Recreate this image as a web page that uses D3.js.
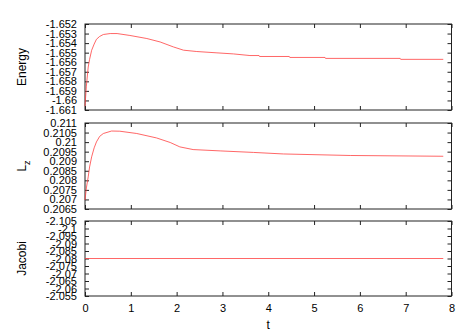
<!DOCTYPE html>
<html>
<head>
<meta charset="utf-8">
<script src="https://cdn.jsdelivr.net/npm/d3@7"></script>
<style>
  body { margin: 0; background: #fff; }
  svg text { font-family: "Liberation Sans", Arial, sans-serif; }
</style>
</head>
<body>
<svg id="chart" width="473" height="332"></svg>
<script>
// time axis ticks
const tTicks = [0, 1, 2, 3, 4, 5, 6, 7, 8];

// Energy series
const energyT = [0, 0.03, 0.07, 0.1, 0.145, 0.2, 0.25, 0.32, 0.4, 0.55, 0.7, 0.98, 1.35, 1.64, 1.93, 2.15, 2.44, 2.88, 3.24, 3.6, 3.8, 3.81, 4.46, 4.47, 5.24, 5.25, 6.88, 6.89, 7.82];
const energyV = [-1.6606, -1.6585, -1.6565, -1.6557, -1.65475, -1.6541, -1.6536, -1.6533, -1.6531, -1.6530, -1.6530, -1.6532, -1.65352, -1.65388, -1.6544, -1.65474, -1.65488, -1.65502, -1.65513, -1.6553, -1.6553, -1.6554, -1.6554, -1.6555, -1.6555, -1.6556, -1.6556, -1.6557, -1.6557];
const energyTicks = [-1.652, -1.653, -1.654, -1.655, -1.656, -1.657, -1.658, -1.659, -1.66, -1.661];

// Lz series
const lzT = [0, 0.03, 0.07, 0.1, 0.145, 0.2, 0.25, 0.32, 0.4, 0.58, 0.76, 1.13, 1.56, 1.86, 2.07, 2.36, 2.95, 3.68, 4.33, 5.79, 7.82];
const lzV = [0.20697, 0.2076, 0.20818, 0.2087, 0.20923, 0.2097, 0.21001, 0.2103, 0.21045, 0.21058, 0.21057, 0.21045, 0.21022, 0.20998, 0.20975, 0.20961, 0.20954, 0.20946, 0.20938, 0.2093, 0.20926];
const lzTicks = [0.211, 0.2105, 0.21, 0.2095, 0.209, 0.2085, 0.208, 0.2075, 0.207, 0.2065];

// Jacobi series
const jacT = [0, 7.82];
const jacV = [-2.08, -2.08];
const jacTicks = [-2.105, -2.1, -2.095, -2.09, -2.085, -2.08, -2.075, -2.07, -2.065, -2.06, -2.055];

const svg = d3.select('#chart');
const LEFT = 85, RIGHT = 451.5;
const FONT = 11;

const x = d3.scaleLinear().domain([0, 8]).range([LEFT, RIGHT]);

const panels = [
    {t: energyT, v: energyV, ticks: energyTicks, domain: [-1.661, -1.652], top: 24, bottom: 110, label: 'Energy'},
    {t: lzT, v: lzV, ticks: lzTicks, domain: [0.2065, 0.211], top: 123, bottom: 209, label: 'Lz'},
    // the Jacobi axis runs with larger values at the bottom
    {t: jacT, v: jacV, ticks: jacTicks, domain: [-2.055, -2.105], top: 221, bottom: 296, label: 'Jacobi'},
];

panels.forEach((p, i) => {
    const y = d3.scaleLinear().domain(p.domain).range([p.bottom, p.top]);
    const g = svg.append('g');

    const fmt = d => String(+d.toFixed(4));

    // left axis with labels
    g.append('g')
        .attr('transform', `translate(${LEFT},0)`)
        .call(d3.axisLeft(y).tickValues(p.ticks).tickSize(-4).tickSizeOuter(0).tickPadding(8).tickFormat(fmt));
    // mirrored right ticks
    g.append('g')
        .attr('transform', `translate(${RIGHT},0)`)
        .call(d3.axisRight(y).tickValues(p.ticks).tickSize(-4).tickSizeOuter(0).tickFormat(''));
    // top ticks
    g.append('g')
        .attr('transform', `translate(0,${p.top})`)
        .call(d3.axisTop(x).tickValues(tTicks).tickSize(-4).tickSizeOuter(0).tickFormat(''));
    // bottom ticks, labels only on the last panel
    g.append('g')
        .attr('transform', `translate(0,${p.bottom})`)
        .call(d3.axisBottom(x).tickValues(tTicks).tickSize(-4).tickSizeOuter(0).tickPadding(8)
            .tickFormat(i === panels.length - 1 ? d3.format('d') : ''));

    g.selectAll('.domain').remove();
    g.selectAll('.tick line').attr('stroke', '#222');
    g.selectAll('.tick text').attr('font-size', FONT).attr('fill', '#000');

    // frame
    g.append('rect')
        .attr('x', LEFT)
        .attr('y', p.top)
        .attr('width', RIGHT - LEFT)
        .attr('height', p.bottom - p.top)
        .attr('fill', 'none')
        .attr('stroke', '#222')
        .attr('stroke-width', 1);

    const line = d3.line()
        .x((d, k) => x(p.t[k]))
        .y(d => y(d));

    g.append('path')
        .datum(p.v)
        .attr('d', line)
        .attr('fill', 'none')
        .attr('stroke', '#ff4040')
        .attr('stroke-width', 0.8);

    // rotated y label
    const cy = (p.top + p.bottom) / 2;
    const lab = g.append('text')
        .attr('transform', `translate(22,${cy}) rotate(-90)`)
        .attr('text-anchor', 'middle')
        .attr('dy', '0.35em')
        .attr('font-size', FONT + 1);
    if (p.label === 'Lz') {
        lab.append('tspan').text('L');
        lab.append('tspan').attr('font-size', FONT - 2).attr('dy', 4).text('z');
    } else {
        lab.text(p.label);
    }
});

svg.append('text')
    .attr('x', x(4))
    .attr('y', 329)
    .attr('text-anchor', 'middle')
    .attr('font-size', FONT + 1)
    .text('t');
</script>
</body>
</html>
